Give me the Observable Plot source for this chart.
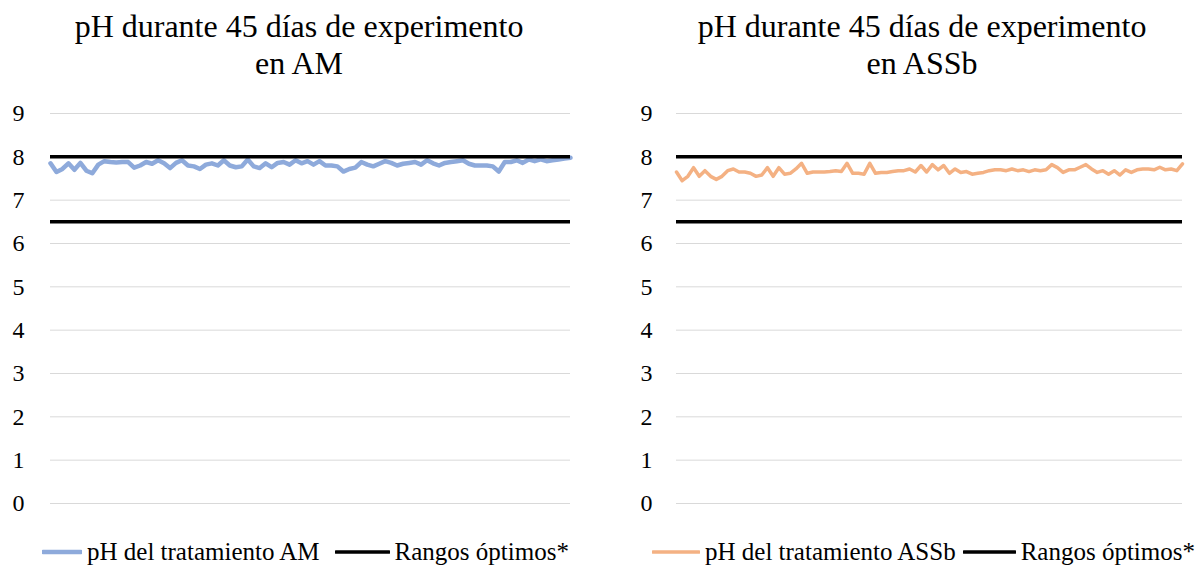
<!DOCTYPE html>
<html>
<head>
<meta charset="utf-8">
<script src="https://cdn.jsdelivr.net/npm/d3@7"></script>
<script src="https://cdn.jsdelivr.net/npm/@observablehq/plot@0.6"></script>
<style>
  html, body { margin: 0; padding: 0; background: #fff; }
  body { width: 1196px; height: 567px; position: relative; overflow: hidden;
         font-family: "Liberation Serif", "Times New Roman", serif; }
  .panel { position: absolute; top: 0; width: 598px; height: 567px; }
  .title { position: absolute; top: 8px; left: 0; width: 100%; box-sizing: border-box; text-align: center;
           font-size: 32px; line-height: 37px; color: #000; }
  .plot { position: absolute; top: 90px; left: 0; }
  .plot text { font-family: "Liberation Serif", "Times New Roman", serif; font-size: 24px; fill: #000; }
  .legend { position: absolute; top: 538px; display: flex; align-items: center;
            font-size: 25px; color: #000; white-space: nowrap; }
  .legend .item { display: flex; align-items: center; }
  .legend svg { margin-right: 5px; }
</style>
</head>
<body>
<div id="p1" class="panel" style="left:0"></div>
<div id="p2" class="panel" style="left:598px"></div>
<script>
// pH readings, two per day over 45 days
const phAM = [7.85, 7.65, 7.72, 7.85, 7.70, 7.86, 7.68, 7.62, 7.82, 7.90,
  7.88, 7.87, 7.88, 7.88, 7.75, 7.80, 7.88, 7.84, 7.92, 7.85,
  7.74, 7.86, 7.92, 7.80, 7.78, 7.72, 7.82, 7.85, 7.80, 7.92,
  7.80, 7.76, 7.78, 7.94, 7.78, 7.74, 7.85, 7.76, 7.86, 7.88,
  7.82, 7.92, 7.85, 7.90, 7.82, 7.90, 7.80, 7.80, 7.78, 7.66,
  7.72, 7.75, 7.88, 7.82, 7.78, 7.84, 7.90, 7.86, 7.80, 7.84,
  7.86, 7.88, 7.82, 7.92, 7.85, 7.80, 7.86, 7.88, 7.90, 7.92,
  7.84, 7.80, 7.80, 7.80, 7.78, 7.66, 7.88, 7.88, 7.92, 7.86,
  7.94, 7.90, 7.94, 7.90, 7.92, 7.94, 7.96, 7.98];
const phASSb = [7.65, 7.45, 7.55, 7.75, 7.55, 7.68, 7.55, 7.48, 7.55, 7.68,
  7.72, 7.65, 7.65, 7.62, 7.55, 7.58, 7.75, 7.55, 7.75, 7.60,
  7.62, 7.72, 7.85, 7.62, 7.65, 7.65, 7.65, 7.66, 7.68, 7.66,
  7.85, 7.62, 7.62, 7.60, 7.85, 7.62, 7.64, 7.64, 7.66, 7.68,
  7.68, 7.72, 7.65, 7.80, 7.65, 7.82, 7.70, 7.80, 7.62, 7.72,
  7.64, 7.66, 7.60, 7.62, 7.64, 7.68, 7.70, 7.70, 7.68, 7.72,
  7.68, 7.70, 7.66, 7.70, 7.68, 7.70, 7.82, 7.75, 7.64, 7.70,
  7.70, 7.76, 7.82, 7.72, 7.64, 7.68, 7.60, 7.68, 7.58, 7.70,
  7.64, 7.70, 7.72, 7.72, 7.70, 7.76, 7.70, 7.72, 7.68, 7.84];
// optimal range limits
const rangoOptimo = [6.5, 8];
const yTicks = [0, 1, 2, 3, 4, 5, 6, 7, 8, 9];

const panels = [
  {id: "p1", name: "AM", values: phAM, color: "#8eaadb", width: 4.5,
   marginLeft: 50, marginRight: 28, tickPadding: 26, titleShift: 0,
   legendLeft: 42, swatchA: 40, swatchB: 55, gap: 15},
  {id: "p2", name: "ASSb", values: phASSb, color: "#f4b183", width: 3.5,
   marginLeft: 78, marginRight: 14, tickPadding: 24, titleShift: 50,
   legendLeft: 54, swatchA: 48, swatchB: 53, gap: 7}
];

function swatch(color, w, sw) {
  return `<svg width="${w}" height="10"><line x1="1" x2="${w - 1}" y1="5" y2="5" stroke="${color}" stroke-width="${sw}" stroke-linecap="round"/></svg>`;
}

for (const p of panels) {
  const el = document.getElementById(p.id);
  const title = document.createElement("div");
  title.className = "title";
  title.style.paddingLeft = p.titleShift + "px";
  title.innerHTML = `pH durante 45 días de experimento<br>en ${p.name}`;
  el.appendChild(title);

  const data = p.values.map((v, i) => ({dia: i + 1, ph: v}));
  const chart = Plot.plot({
    width: 598,
    height: 440,
    marginTop: 23,
    marginBottom: 27,
    marginLeft: p.marginLeft,
    marginRight: p.marginRight,
    style: {fontFamily: "'Liberation Serif', 'Times New Roman', serif", fontSize: "24px", color: "#000", background: "transparent"},
    x: {domain: [1, data.length], axis: null},
    y: {domain: [0, 9], ticks: yTicks, tickSize: 0, tickPadding: p.tickPadding, label: null},
    marks: [
      Plot.gridY(yTicks, {stroke: "#d9d9d9", strokeOpacity: 1, strokeWidth: 1}),
      Plot.axisY(yTicks, {tickSize: 0, tickPadding: p.tickPadding, label: null, fontSize: 24}),
      Plot.lineY(data, {x: "dia", y: "ph", stroke: p.color, strokeWidth: p.width, curve: "linear"}),
      Plot.ruleY(rangoOptimo, {stroke: "#000", strokeWidth: 3.5})
    ]
  });
  chart.classList.add("plot");
  el.appendChild(chart);

  const legend = document.createElement("div");
  legend.className = "legend";
  legend.style.left = p.legendLeft + "px";
  legend.innerHTML =
    `<span class="item">${swatch(p.color, p.swatchA, p.width)}pH del tratamiento ${p.name}</span>` +
    `<span class="item" style="margin-left:${p.gap}px">${swatch("#000", p.swatchB, 3.5)}Rangos óptimos*</span>`;
  el.appendChild(legend);
}
</script>
</body>
</html>
